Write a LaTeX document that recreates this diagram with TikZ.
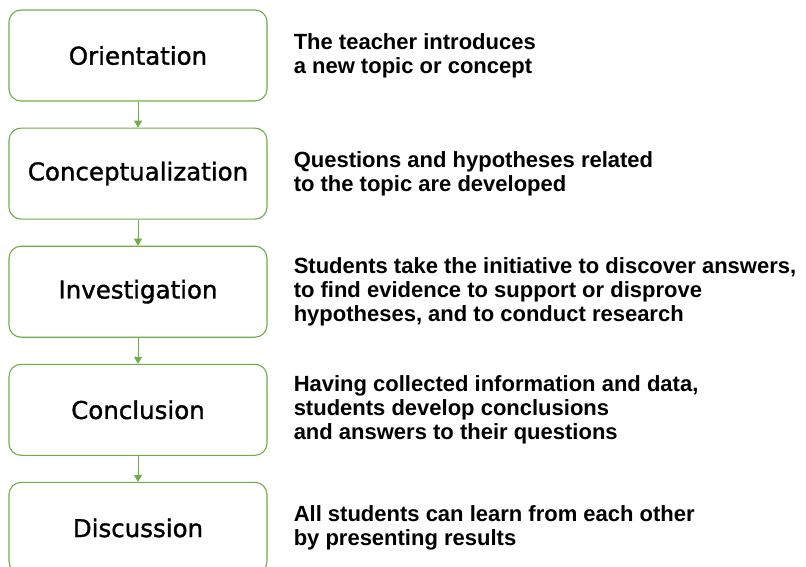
\documentclass[tikz,border=0pt]{standalone}
\usepackage{fontspec}
\setmainfont{Liberation Sans}
\newfontfamily\labelfont[BoldFont={DejaVu Sans}, BoldFeatures={FakeBold=1.3}]{DejaVu Sans}
\usepackage{tikz}
\usetikzlibrary{positioning,shapes,arrows.meta}
\definecolor{leaf}{HTML}{70AD47}
\tikzstyle{stage} = [rectangle, draw=leaf, line width=1.1pt, fill=white, %
   rounded corners=12pt, minimum width=258pt, minimum height=91pt, %
   text centered, font=\labelfont\bfseries\fontsize{24.5}{28}\selectfont]
\tikzstyle{desc} = [inner sep=0pt, align=left, %
   font=\fontsize{22}{24}\selectfont\bfseries]
\tikzstyle{line} = [draw, leaf, line width=1pt, -{Triangle[length=7pt,width=8pt]}]

\begin{document}
\begin{tikzpicture}[x=1pt,y=-1pt]
         \useasboundingbox (0,0) rectangle (806,567);
         % Place nodes
         \node[stage] (orient) at (138,55.5) {Orientation};
         \node[stage, below=26pt of orient] (concept) {Conceptualization};
         \node[stage, below=26pt of concept] (invest) {Investigation};
         \node[stage, below=26pt of invest] (concl) {Conclusion};
         \node[stage, below=26pt of concl] (discuss) {Discussion};

         % Descriptions
         \node[desc, right=26pt of orient] (orienttxt){%
            The teacher introduces\\a new topic or concept};
         \node[desc, right=26pt of concept] (concepttxt){%
            Questions and hypotheses related\\to the topic are developed};
         \node[desc, right=26pt of invest] (investtxt){%
            Students take the initiative to discover answers,\\%
            to find evidence to support or disprove\\%
            hypotheses, and to conduct research};
         \node[desc, right=26pt of concl] (concltxt){%
            Having collected information and data,\\%
            students develop conclusions\\%
            and answers to their questions};
         \node[desc, right=26pt of discuss] (discusstxt){%
            All students can learn from each other\\by presenting results};

         % Draw edges
         \path [line] (orient) -- (concept);
         \path [line] (concept) -- (invest);
         \path [line] (invest) -- (concl);
         \path [line] (concl) -- (discuss);
\end{tikzpicture}
\end{document}
